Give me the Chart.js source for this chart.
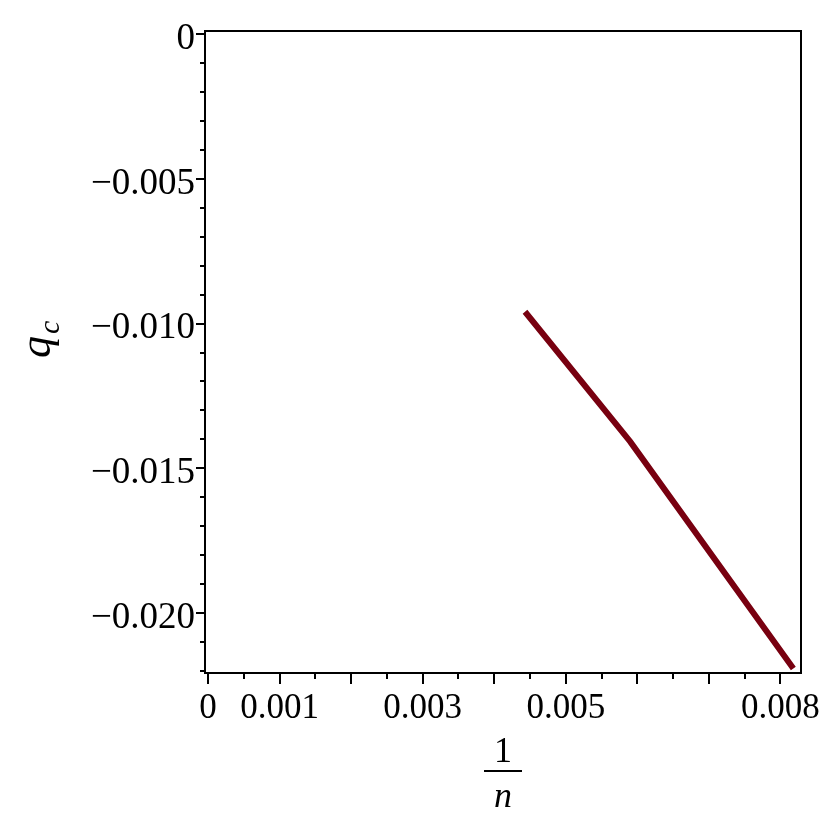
<!DOCTYPE html>
<html><head><meta charset="utf-8">
<script src="https://cdn.jsdelivr.net/npm/chart.js@4"></script>
<style>html,body{margin:0;padding:0;background:#fff;}</style>
</head><body>
<canvas id="c" width="830" height="830"></canvas>
<script>
// ---- data ----
const invN = [0.00443, 0.00590, 0.00818];
const qc = [-0.00959, -0.01408, -0.02192];

// ---- ticks ----
const xTickValues = [0, 0.0005, 0.001, 0.0015, 0.002, 0.0025, 0.003, 0.0035, 0.004, 0.0045, 0.005, 0.0055, 0.006, 0.0065, 0.007, 0.0075, 0.008];
const xMajorTicks = [0, 0.001, 0.002, 0.003, 0.004, 0.005, 0.006, 0.007, 0.008];
const xLabelValues = [0, 0.001, 0.003, 0.005, 0.008];
const xLabelTexts = ['0', '0.001', '0.003', '0.005', '0.008'];
const yTickValues = [0, -0.001, -0.002, -0.003, -0.004, -0.005, -0.006, -0.007, -0.008, -0.009, -0.010, -0.011, -0.012, -0.013, -0.014, -0.015, -0.016, -0.017, -0.018, -0.019, -0.020, -0.021, -0.022];
const yLabelValues = [0, -0.005, -0.010, -0.015, -0.020];
const yLabelTexts = ['0', '\u22120.005', '\u22120.010', '\u22120.015', '\u22120.020'];

const near = (a, b) => Math.abs(a - b) < 1e-9;
const findLabel = (v, vals, texts) => { const i = vals.findIndex(t => near(t, v)); return i >= 0 ? texts[i] : ''; };

const FONT = "'Liberation Serif', 'Times New Roman', serif";

const decor = {
  id: 'decor',
  afterDraw(chart) {
    const ctx = chart.ctx, a = chart.chartArea;
    const xs = chart.scales.x, ys = chart.scales.y;
    ctx.save();
    ctx.strokeStyle = '#000';
    ctx.lineWidth = 2;
    ctx.strokeRect(a.left, a.top, a.right - a.left, a.bottom - a.top);
    ctx.beginPath();
    yTickValues.forEach(v => {
      const y = Math.round(ys.getPixelForValue(v));
      const len = yLabelValues.some(t => near(t, v)) ? 9 : 5;
      ctx.moveTo(a.left - len, y); ctx.lineTo(a.left, y);
    });
    xTickValues.forEach(v => {
      const x = Math.round(xs.getPixelForValue(v));
      const len = xMajorTicks.some(t => near(t, v)) ? 11 : 6;
      ctx.moveTo(x, a.bottom); ctx.lineTo(x, a.bottom + len);
    });
    ctx.stroke();

    // y-axis title q_c
    ctx.fillStyle = '#000';
    ctx.save();
    ctx.translate(50, 358);
    ctx.rotate(-Math.PI / 2);
    ctx.textAlign = 'left';
    ctx.textBaseline = 'alphabetic';
    ctx.font = 'italic 44px ' + FONT;
    ctx.fillText('q', 0, 0);
    const qw = ctx.measureText('q').width;
    ctx.font = 'italic 30px ' + FONT;
    ctx.fillText('c', qw + 2, 9);
    ctx.restore();

    // x-axis title 1/n
    const cx = (a.left + a.right) / 2;
    ctx.textAlign = 'center';
    ctx.textBaseline = 'alphabetic';
    ctx.font = '36px ' + FONT;
    ctx.fillText('1', cx, 762);
    ctx.fillRect(cx - 19, 770, 38, 2);
    ctx.font = 'italic 36px ' + FONT;
    ctx.fillText('n', cx, 807);
    ctx.restore();
  }
};

new Chart(document.getElementById('c'), {
  type: 'line',
  data: {
    datasets: [{
      data: invN.map((x, i) => ({ x: x, y: qc[i] })),
      borderColor: 'rgb(120,0,16)',
      borderWidth: 6,
      pointRadius: 0,
      tension: 0,
      fill: false
    }]
  },
  options: {
    responsive: false,
    devicePixelRatio: 1,
    animation: false,
    layout: { padding: { left: 0, right: 29, top: 31, bottom: 0 } },
    plugins: { legend: { display: false }, tooltip: { enabled: false } },
    scales: {
      x: {
        type: 'linear',
        min: -0.000042,
        max: 0.008287,
        afterBuildTicks: s => { s.ticks = xTickValues.map(v => ({ value: v })); },
        afterFit: s => { s.height = 157; s.paddingLeft = 0; s.paddingRight = 0; },
        grid: { display: false, drawTicks: false },
        border: { display: false },
        ticks: {
          autoSkip: false, maxRotation: 0, minRotation: 0, padding: 15,
          color: '#000', font: { family: FONT, size: 35 },
          callback: v => findLabel(v, xLabelValues, xLabelTexts)
        }
      },
      y: {
        type: 'linear',
        min: -0.022077,
        max: 0.000114,
        afterBuildTicks: s => { s.ticks = yTickValues.map(v => ({ value: v })); },
        afterFit: s => { s.width = 205; s.paddingTop = 0; s.paddingBottom = 0; },
        grid: { display: false, drawTicks: false },
        border: { display: false },
        ticks: {
          autoSkip: false, padding: 10, labelOffset: 5,
          color: '#000', font: { family: FONT, size: 37 },
          callback: v => findLabel(v, yLabelValues, yLabelTexts)
        }
      }
    }
  },
  plugins: [decor]
});
</script>
</body></html>
